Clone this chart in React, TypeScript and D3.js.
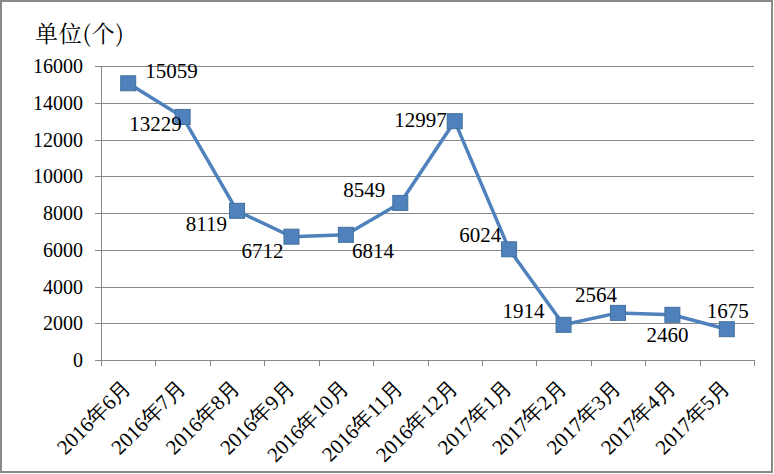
import React from "react";
import * as d3 from "d3";

const categories = ["2016年6月","2016年7月","2016年8月","2016年9月","2016年10月","2016年11月","2016年12月","2017年1月","2017年2月","2017年3月","2017年4月","2017年5月"];
const values = [15059,13229,8119,6712,6814,8549,12997,6024,1914,2564,2460,1675];
const labelPlacement = ["p0","p1","p2","p3","p4","p5","p6","p7","p8","p9","p10","p11"];
const yTicks = [0,2000,4000,6000,8000,10000,12000,14000,16000];

const W = 774, H = 474;
const left = 101, right = 754, top = 66, bottom = 360;

export default function App() {
  const x = d3.scaleBand<string>().domain(categories).range([left, right]).padding(0);
  const y = d3.scaleLinear().domain([0, 16000]).range([bottom, top]);
  const cx = (c: string) => (x(c) as number) + x.bandwidth() / 2;
  const line = d3.line<number>().x((_, i) => cx(categories[i])).y(d => y(d));
  const serif = { fontFamily: '"Liberation Serif"' };
  const cjk = { fontFamily: '"Noto Serif CJK SC"' };

  // label offsets relative to the marker: [dx, dy, anchor]
  const offsets: Record<string, [number, number, string]> = {
    p0: [17, -5, "start"],
    p1: [-1, 14, "end"],
    p2: [-10, 20, "end"],
    p3: [-8, 21, "end"],
    p4: [6, 23, "start"],
    p5: [-15, -6, "end"],
    p6: [-8, 6, "end"],
    p7: [-8, -7, "end"],
    p8: [-19, -7, "end"],
    p9: [-22, -11, "middle"],
    p10: [-5, 27, "middle"],
    p11: [1, -11, "middle"],
  };

  return (
    <svg width={W} height={H} style={{ position: "absolute", left: 0, top: 0 }}>
      <rect x={1} y={1} width={W - 3} height={H - 3} fill="#fff" stroke="#898989" strokeWidth={2} />
      <text x={35} y={42} style={{ ...cjk, fontSize: 23, letterSpacing: 0.8 }} fill="#000">单位(个)</text>
      {yTicks.map(t => (
        <g key={t}>
          <line x1={left - 6} x2={right} y1={Math.round(y(t)) + 0.5} y2={Math.round(y(t)) + 0.5} stroke="#888" strokeWidth={1} />
          <text x={83} y={y(t) + 7} textAnchor="end" style={{ ...serif, fontSize: 20 }} fill="#000">{t}</text>
        </g>
      ))}
      <line x1={left + 0.5} x2={left + 0.5} y1={top} y2={bottom} stroke="#888" />
      {categories.map((c, i) => (
        <line key={"t" + i} x1={Math.round((x(c) as number)) + 0.5} x2={Math.round((x(c) as number)) + 0.5} y1={bottom} y2={bottom + 6} stroke="#888" />
      ))}
      <line x1={right + 0.5} x2={right + 0.5} y1={bottom} y2={bottom + 6} stroke="#888" />
      {categories.map((c, i) => (
        <text key={"x" + i} transform={`translate(${cx(c) + 4},${bottom + 29}) rotate(-45)`} textAnchor="end" style={{ ...serif, fontSize: 21 }} fill="#000">{c}</text>
      ))}
      <path d={line(values) || ""} fill="none" stroke="#4F81BD" strokeWidth={3.5} strokeLinejoin="round" />
      {values.map((v, i) => (
        <rect key={"m" + i} x={cx(categories[i]) - 7.5} y={y(v) - 7.5} width={15} height={15} fill="#4F81BD" stroke="#41719C" strokeWidth={1} />
      ))}
      {values.map((v, i) => {
        const [dx, dy, anchor] = offsets[labelPlacement[i]];
        return (
          <text key={"l" + i} x={cx(categories[i]) + dx} y={y(v) + dy} textAnchor={anchor as any} style={{ ...serif, fontSize: 21 }} fill="#000">{v}</text>
        );
      })}
    </svg>
  );
}
